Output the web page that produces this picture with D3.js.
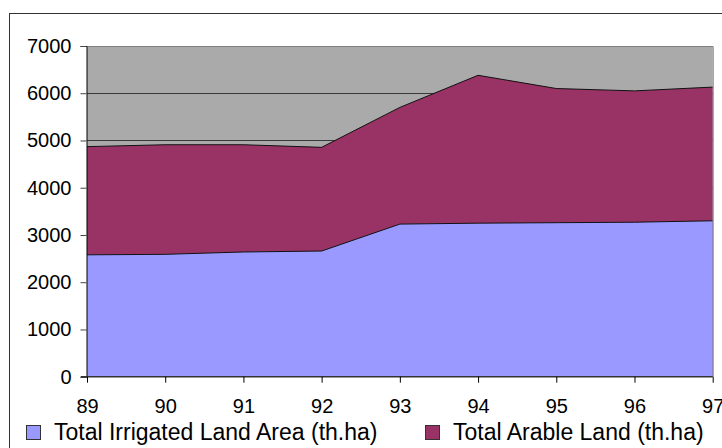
<!DOCTYPE html>
<html>
<head>
<meta charset="utf-8">
<script src="https://cdn.jsdelivr.net/npm/d3@7"></script>
<style>
  html, body { margin: 0; padding: 0; background: #fff; }
  svg { display: block; font-family: Arial, "Liberation Sans", sans-serif; }
</style>
</head>
<body>
<svg id="chart" width="722" height="448"></svg>
<script>
const years = ["89", "90", "91", "92", "93", "94", "95", "96", "97"];
const irrigated = [2580, 2590, 2640, 2660, 3230, 3250, 3260, 3270, 3300];
const arable = [4870, 4910, 4910, 4855, 5700, 6380, 6100, 6050, 6130];
const yTicks = [0, 1000, 2000, 3000, 4000, 5000, 6000, 7000];
const seriesNames = ["Total Irrigated Land Area (th.ha)", "Total Arable Land (th.ha)"];
const colors = ["#9999FF", "#993366"];

const svg = d3.select("#chart");
const pLeft = 87, pRight = 712.7, pTop = 46, pBottom = 376.7;

// outer chart border
svg.append("rect").attr("x", 9.5).attr("y", 13.5).attr("width", 730).attr("height", 460)
  .attr("fill", "none").attr("stroke", "#333").attr("stroke-width", 1);

const x = d3.scalePoint().domain(years).range([pLeft, pRight]);
const y = d3.scaleLinear().domain([0, 7000]).range([pBottom, pTop]);

// plot area background
svg.append("rect").attr("x", pLeft).attr("y", pTop).attr("width", pRight - pLeft).attr("height", pBottom - pTop)
  .attr("fill", "#AAAAAA");

// gridlines
svg.append("g").selectAll("line").data(yTicks.filter(d => d > 0)).join("line")
  .attr("x1", pLeft).attr("x2", pRight)
  .attr("y1", d => Math.round(y(d)) + 0.5).attr("y2", d => Math.round(y(d)) + 0.5)
  .attr("stroke", "#3a3a3a").attr("stroke-width", 1);

const rows = years.map((yr, i) => ({ yr, irr: irrigated[i], ar: arable[i] }));

const areaAr = d3.area().x(d => x(d.yr)).y0(y(0)).y1(d => y(d.ar));
const areaIrr = d3.area().x(d => x(d.yr)).y0(y(0)).y1(d => y(d.irr));
const lineAr = d3.line().x(d => x(d.yr)).y(d => y(d.ar));
const lineIrr = d3.line().x(d => x(d.yr)).y(d => y(d.irr));

svg.append("path").datum(rows).attr("d", areaAr).attr("fill", colors[1]);
svg.append("path").datum(rows).attr("d", lineAr).attr("fill", "none").attr("stroke", "#111").attr("stroke-width", 1);
svg.append("path").datum(rows).attr("d", areaIrr).attr("fill", colors[0]);
svg.append("path").datum(rows).attr("d", lineIrr).attr("fill", "none").attr("stroke", "#111").attr("stroke-width", 1);

// plot border top/right
svg.append("path").attr("d", `M${pLeft},${pTop + 0.5}H${pRight + 0.5}V${pBottom}`)
  .attr("fill", "none").attr("stroke", "#808080").attr("stroke-width", 1);

// y axis
const yAxis = d3.axisLeft(y).tickValues(yTicks).tickSize(6).tickPadding(9).tickFormat(d3.format("d"));
const gy = svg.append("g").attr("transform", `translate(${pLeft - 0.5},0)`).call(yAxis);
gy.select(".domain").attr("stroke", "#000");
gy.selectAll(".tick line").attr("stroke", "#444");
gy.selectAll("text").attr("font-size", 20).attr("fill", "#000")
  .attr("font-family", "Arial, 'Liberation Sans', sans-serif");

// x axis
const xAxis = d3.axisBottom(x).tickSize(6).tickSizeOuter(0).tickPadding(16);
const gx = svg.append("g").attr("transform", `translate(0,${pBottom})`).call(xAxis);
gx.select(".domain").attr("stroke", "#333").attr("stroke-width", 1.5).attr("d", `M${pLeft - 6},0H${pRight}`);
gx.selectAll(".tick line").attr("stroke", "#000");
gx.selectAll("text").attr("font-size", 20).attr("fill", "#000")
  .attr("font-family", "Arial, 'Liberation Sans', sans-serif");

// legend
const legendX = [26, 425];
const leg = svg.append("g");
seriesNames.forEach((name, i) => {
  leg.append("rect").attr("x", legendX[i] + 0.5).attr("y", 425.5).attr("width", 14).attr("height", 14)
    .attr("fill", colors[i]).attr("stroke", "#333").attr("stroke-width", 1);
  leg.append("text").attr("x", legendX[i] + 28).attr("y", 440).attr("font-size", 23)
    .attr("fill", "#000").text(name);
});
</script>
</body>
</html>
